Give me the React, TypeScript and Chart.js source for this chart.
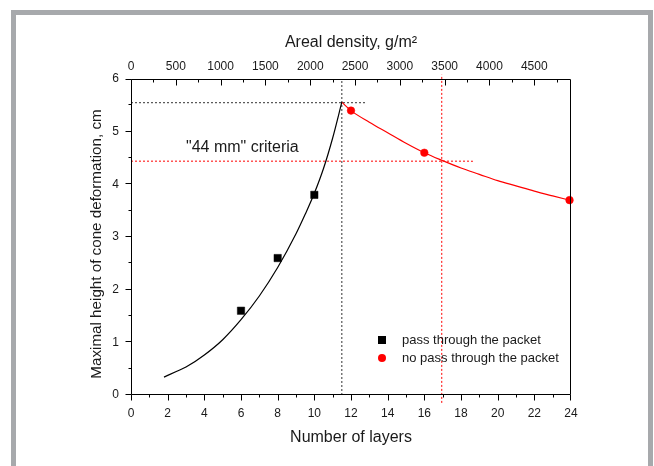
import React, { useEffect, useRef } from "react";
import { Chart, registerables } from "chart.js";

Chart.register(...registerables);

// ---- data ----
const layersMin = 0;
const layersMax = 24;
const densityMax = 4910;
const densityTicks = [0, 500, 1000, 1500, 2000, 2500, 3000, 3500, 4000, 4500];
const heightMin = 0;
const heightMax = 6;

const xTitle = "Number of layers";
const x2Title = "Areal density, g/m²";
const yTitle = "Maximal height of cone deformation, cm";
const criteriaLabel = '"44 mm" criteria';
const legendLabels = ["pass through the packet", "no pass through the packet"];

const passLayers = [6, 8, 10];
const passHeights = [1.6, 2.6, 3.8];
const noPassLayers = [12, 16, 23.92];
const noPassHeights = [5.4, 4.6, 3.7];

const passFitLayers = [1.8, 2.5, 3, 4, 5, 6, 7, 8, 9, 9.5, 10, 10.5, 11, 11.5];
const passFitHeights = [0.34, 0.45, 0.53, 0.76, 1.05, 1.43, 1.88, 2.42, 3.06, 3.43, 3.83, 4.3, 4.88, 5.56];
const noPassFitLayers = [11.5, 12, 13, 14, 15, 16, 17, 18, 19, 20, 21, 22, 23, 23.92];
const noPassFitHeights = [5.56, 5.4, 5.18, 4.98, 4.78, 4.6, 4.45, 4.31, 4.19, 4.07, 3.97, 3.87, 3.78, 3.7];

const peakLineLayers = [0, 12.8];
const peakLineHeights = [5.55, 5.55];
const peakVLineLayers = [11.5, 11.5];
const peakVLineHeights = [0, 6];
const criteriaLineLayers = [0, 18.65];
const criteriaLineHeights = [4.44, 4.44];
const criteriaVLineLayers = [16.95, 16.95];
const criteriaVLineHeights = [-0.15, 6.08];
const criteriaLabelPos = { x: 3.0, y: 4.7 };

const zip = (xs: number[], ys: number[]) => xs.map((x, i) => ({ x, y: ys[i] }));

const FONT = "'Liberation Sans', Arial, sans-serif";
const TEXT = "#1a1a1a";
const RED = "#ff0000";

const decorPlugin = {
  id: "decor",
  afterDraw(chart: any) {
    const { ctx, chartArea: a, scales } = chart;
    const xs = scales.x;
    const ys = scales.y;
    const x2 = scales.x2;
    ctx.save();
    ctx.strokeStyle = "#000";
    ctx.lineWidth = 1;
    const L = Math.round(a.left) + 0.5;
    const R = Math.round(a.right) - 0.5;
    const T = Math.round(a.top) + 0.5;
    const B = Math.round(a.bottom) - 0.5;
    ctx.beginPath();
    ctx.rect(L, T, R - L, B - T);
    ctx.stroke();
    ctx.beginPath();
    for (let v = layersMin; v <= layersMax; v += 1) {
      const p = Math.round(xs.getPixelForValue(v)) + (v === layersMax ? -0.5 : 0.5);
      const len = v % 2 === 0 ? 6 : 3;
      ctx.moveTo(p, B);
      ctx.lineTo(p, B + len);
    }
    for (let v = heightMin; v <= heightMax + 1e-9; v += 0.5) {
      const p = Math.round(ys.getPixelForValue(v)) + (v === heightMax ? 0.5 : -0.5);
      const len = Math.abs(v - Math.round(v)) < 1e-9 ? 6 : 3;
      ctx.moveTo(L - len, p);
      ctx.lineTo(L, p);
    }
    for (let v = 0; v <= densityMax; v += 250) {
      const p = Math.round(x2.getPixelForValue(v)) + 0.5;
      const len = v % 500 === 0 ? 6 : 3;
      ctx.moveTo(p, T);
      ctx.lineTo(p, T + len);
    }
    ctx.stroke();

    // y-axis title
    ctx.fillStyle = TEXT;
    ctx.save();
    ctx.translate(97, (a.top + a.bottom) / 2 + 7);
    ctx.rotate(-Math.PI / 2);
    ctx.font = `15.2px ${FONT}`;
    ctx.textAlign = "center";
    ctx.textBaseline = "middle";
    ctx.fillText(yTitle, 0, 0);
    ctx.restore();

    // annotation text
    ctx.font = `16px ${FONT}`;
    ctx.textAlign = "left";
    ctx.textBaseline = "middle";
    ctx.fillText(criteriaLabel, xs.getPixelForValue(criteriaLabelPos.x), ys.getPixelForValue(criteriaLabelPos.y));

    // legend
    const lx = a.left + 251;
    const ly0 = a.top + 261;
    const gap = 18;
    const sq = chart.data.datasets[0];
    const ci = chart.data.datasets[1];
    ctx.fillStyle = sq.backgroundColor;
    ctx.fillRect(lx - 4, ly0 - 4, 8, 8);
    ctx.fillStyle = ci.backgroundColor;
    ctx.beginPath();
    ctx.arc(lx, ly0 + gap, 4, 0, Math.PI * 2);
    ctx.fill();
    ctx.fillStyle = TEXT;
    ctx.font = `13px ${FONT}`;
    ctx.fillText(legendLabels[0], lx + 20, ly0 + 0.5);
    ctx.fillText(legendLabels[1], lx + 20, ly0 + gap + 0.5);
    ctx.restore();
  },
};

export default function App() {
  const ref = useRef<HTMLCanvasElement>(null);
  useEffect(() => {
    if (!ref.current) return;
    const dotted = (color: string, xs: number[], ys: number[], order: number, clip = true) => ({
      label: "",
      data: zip(xs, ys),
      showLine: true,
      borderColor: color,
      borderWidth: 1,
      borderDash: [2, 2],
      pointRadius: 0,
      order,
      clip: clip ? undefined : false,
    });
    const chart = new Chart(ref.current, {
      type: "scatter",
      data: {
        datasets: [
          {
            label: legendLabels[0],
            data: zip(passLayers, passHeights),
            pointStyle: "rect",
            pointRadius: 5.2,
            backgroundColor: "#000",
            borderColor: "#000",
            borderWidth: 0.5,
            order: 0,
            clip: false,
          },
          {
            label: legendLabels[1],
            data: zip(noPassLayers, noPassHeights),
            pointStyle: "circle",
            pointRadius: 3.8,
            backgroundColor: RED,
            borderColor: RED,
            borderWidth: 0.5,
            order: 0,
            clip: false,
          },
          {
            label: "",
            data: zip(passFitLayers, passFitHeights),
            showLine: true,
            borderColor: "#000",
            borderWidth: 1.2,
            pointRadius: 0,
            cubicInterpolationMode: "monotone",
            order: 1,
          },
          {
            label: "",
            data: zip(noPassFitLayers, noPassFitHeights),
            showLine: true,
            borderColor: RED,
            borderWidth: 1.2,
            pointRadius: 0,
            cubicInterpolationMode: "monotone",
            order: 1,
          },
          dotted("#333", peakLineLayers, peakLineHeights, 2),
          dotted("#333", peakVLineLayers, peakVLineHeights, 2),
          dotted(RED, criteriaLineLayers, criteriaLineHeights, 2),
          dotted(RED, criteriaVLineLayers, criteriaVLineHeights, 2, false),
        ] as any,
      },
      options: {
        animation: false,
        responsive: false,
        devicePixelRatio: 1,
        layout: { padding: { left: 0, right: 83, top: 0, bottom: 0 } },
        plugins: { legend: { display: false }, tooltip: { enabled: false } },
        scales: {
          x: {
            type: "linear",
            position: "bottom",
            min: layersMin,
            max: layersMax,
            grid: { display: false, drawTicks: false },
            border: { display: false },
            ticks: { stepSize: 2, color: TEXT, font: { family: FONT, size: 12 }, padding: 11, maxRotation: 0 },
            title: { display: true, text: xTitle, color: TEXT, font: { family: FONT, size: 16 }, padding: { top: 0, bottom: 19 } },
            afterFit: (s: any) => { s.height = 71; },
          },
          x2: {
            type: "linear",
            position: "top",
            min: 0,
            max: densityMax,
            grid: { display: false, drawTicks: false },
            border: { display: false },
            ticks: {
              color: TEXT,
              font: { family: FONT, size: 12 },
              padding: 5,
              maxRotation: 0,
              autoSkip: false,
              callback: (v: any) => String(v),
            },
            afterBuildTicks: (s: any) => { s.ticks = densityTicks.map((v) => ({ value: v })); },
            title: { display: true, text: x2Title, color: TEXT, font: { family: FONT, size: 16 }, padding: { top: 33, bottom: 0 } },
            afterFit: (s: any) => { s.height = 79; },
          },
          y: {
            type: "linear",
            min: heightMin,
            max: heightMax,
            grid: { display: false, drawTicks: false },
            border: { display: false },
            ticks: { stepSize: 1, color: TEXT, font: { family: FONT, size: 12 }, padding: 12 },
            title: { display: false, text: yTitle },
            afterFit: (s: any) => { s.width = 131; },
          },
        },
      } as any,
      plugins: [decorPlugin],
    });
    return () => chart.destroy();
  }, []);

  return (
    <div style={{ position: "fixed", left: 0, top: 0, width: 654, height: 466, overflow: "hidden", background: "#fff" }}>
      <div
        style={{
          position: "absolute",
          left: 11,
          top: 10,
          width: 632,
          height: 520,
          border: "5px solid #a7a9ac",
        }}
      />
      <canvas ref={ref} width={654} height={466} style={{ position: "absolute", left: 0, top: 0, width: 654, height: 466 }} />
    </div>
  );
}
